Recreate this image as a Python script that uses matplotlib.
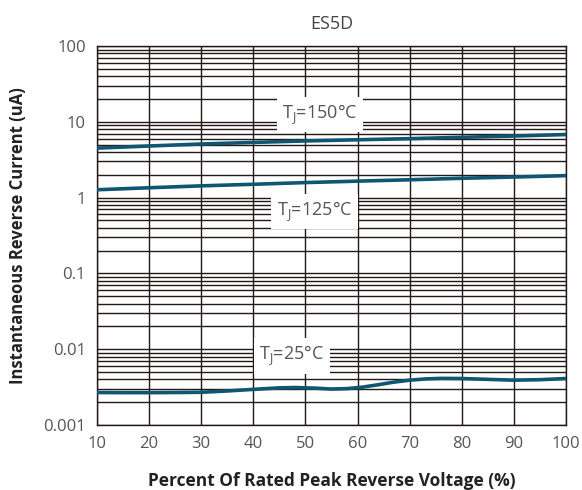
import matplotlib.pyplot as plt
from matplotlib.ticker import FixedLocator, NullFormatter, LogLocator

# percent of rated peak reverse voltage
x_150 = [10, 20, 30, 40, 50, 60, 70, 80, 90, 100]
i_150 = [4.5, 4.8, 5.1, 5.35, 5.6, 5.8, 6.0, 6.25, 6.5, 6.8]

x_125 = [10, 20, 30, 40, 50, 60, 70, 80, 90, 100]
i_125 = [1.27, 1.35, 1.43, 1.5, 1.58, 1.65, 1.72, 1.8, 1.87, 1.95]

x_25 = [10, 15, 20, 25, 30, 35, 40, 45, 48, 52, 55, 58, 61, 64, 67, 70, 73, 76, 80, 85, 90, 95, 100]
i_25 = [0.00268, 0.00267, 0.00267, 0.00268, 0.0027, 0.00281, 0.00295, 0.00309, 0.00312, 0.00306,
        0.00298, 0.00302, 0.00316, 0.0034, 0.00368, 0.0039, 0.00405, 0.00412, 0.0041, 0.004,
        0.0039, 0.00396, 0.0041]

x_ticks = [10, 20, 30, 40, 50, 60, 70, 80, 90, 100]
y_ticks = [0.001, 0.01, 0.1, 1, 10, 100]
y_tick_labels = ['0.001', '0.01', '0.1', '1', '10', '100']

labels = ['T$_\\mathregular{J}$=150°C', 'T$_\\mathregular{J}$=125°C', 'T$_\\mathregular{J}$=25°C']
label_x = [52.8, 51.8, 47.4]
label_y = [12.4, 0.65, 0.0081]

plt.rcParams['font.family'] = ['Open Sans', 'DejaVu Sans']

fig = plt.figure(figsize=(5.82, 4.9), dpi=100)
ax = fig.add_axes([0.1667, 0.1327, 0.8058, 0.7733])

line_color = '#0e5672'
ax.plot(x_150, i_150, color=line_color, lw=2.6, zorder=4)
ax.plot(x_125, i_125, color=line_color, lw=2.6, zorder=4)
ax.plot(x_25, i_25, color=line_color, lw=2.6, zorder=4)

ax.set_yscale('log')
ax.set_xlim(10, 100)
ax.set_ylim(0.001, 100)

ax.xaxis.set_major_locator(FixedLocator(x_ticks))
ax.set_yticks(y_ticks)
ax.set_yticklabels(y_tick_labels)
ax.yaxis.set_minor_locator(LogLocator(base=10, subs=range(2, 10)))
ax.yaxis.set_minor_formatter(NullFormatter())

ax.grid(True, which='major', axis='both', color='#231815', lw=1.0)
ax.grid(True, which='minor', axis='y', color='#231815', lw=1.0)
ax.set_axisbelow(True)

ax.tick_params(which='both', length=0, labelsize=12, labelcolor='#555555', pad=8)
for s in ax.spines.values():
    s.set_color('#231815')
    s.set_linewidth(1.0)

for t, lx, ly in zip(labels, label_x, label_y):
    ax.text(lx, ly, t, ha='center', va='center', fontsize=13, color='#555555', zorder=5,
            bbox=dict(facecolor='white', edgecolor='none', pad=4))

ax.set_title('ES5D', fontsize=13, color='#444444', pad=12)
ax.set_xlabel('Percent Of Rated Peak Reverse Voltage (%)', fontsize=12.5, fontweight='bold',
              color='#222222', labelpad=14)
ax.set_ylabel('Instantaneous Reverse Current (uA)', fontsize=12, fontweight='bold',
              color='#222222', labelpad=12)

plt.savefig('out.png', dpi=100)
